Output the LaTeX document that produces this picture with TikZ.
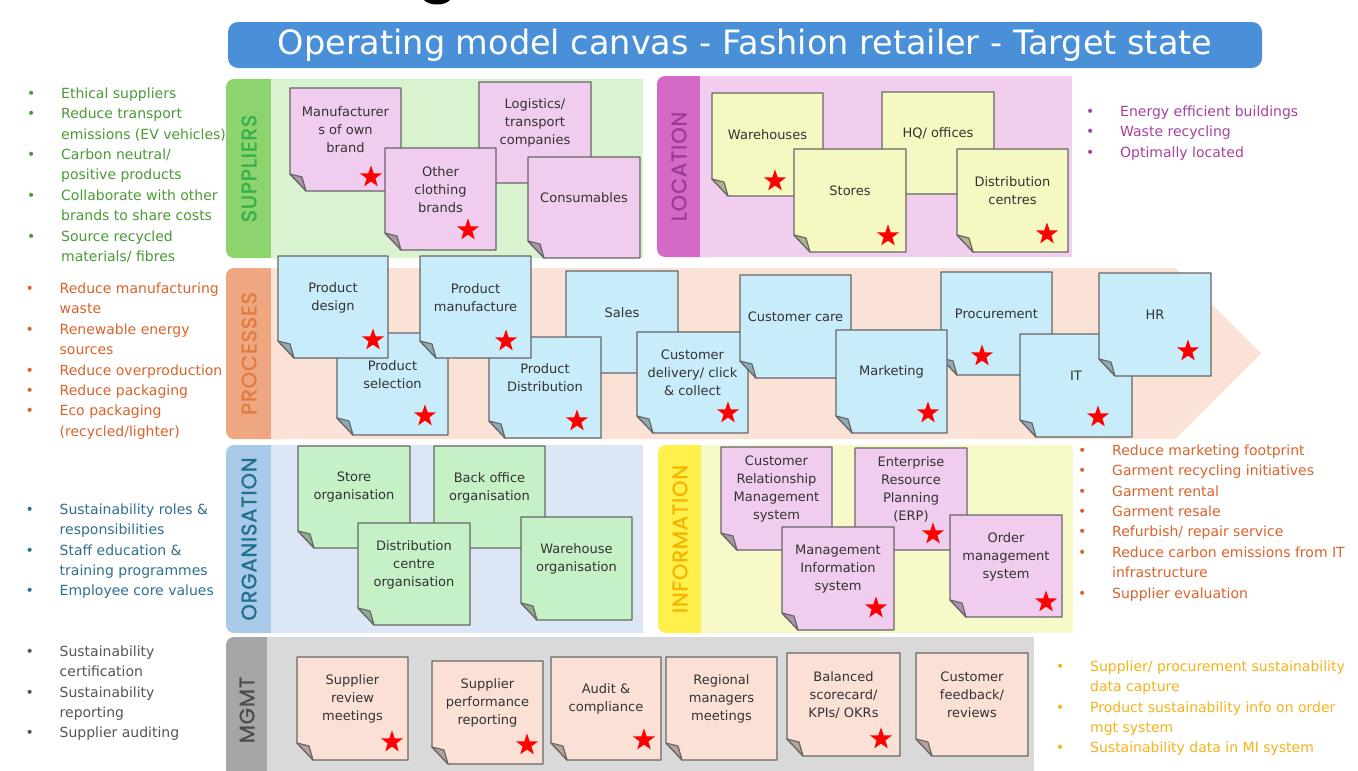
\documentclass[tikz,border=0pt]{standalone}
\usepackage{fontspec}
\setmainfont{DejaVu Sans}
\newfontfamily\tabfont[FakeBold=1.2,LetterSpace=4]{Poppins}
\usetikzlibrary{shapes.geometric}

\definecolor{titleblue}{HTML}{4A90D9}
\definecolor{suptab}{HTML}{8ED46E}
\definecolor{suplight}{HTML}{D9F2D0}
\definecolor{suptext}{HTML}{36B04A}
\definecolor{loctab}{HTML}{D46AC6}
\definecolor{loclight}{HTML}{F2CEEE}
\definecolor{loctext}{HTML}{9C3B95}
\definecolor{proctab}{HTML}{EFA781}
\definecolor{proclight}{HTML}{FBE2D6}
\definecolor{proctext}{HTML}{E27B3F}
\definecolor{orgtab}{HTML}{A9C9E9}
\definecolor{orglight}{HTML}{DCE7F5}
\definecolor{orgtext}{HTML}{21708F}
\definecolor{infotab}{HTML}{FFF04C}
\definecolor{infolight}{HTML}{F8F9C9}
\definecolor{infotext}{HTML}{F4B400}
\definecolor{mgmttab}{HTML}{A6A6A6}
\definecolor{mgmtlight}{HTML}{D9D9D9}
\definecolor{mgmttext}{HTML}{4D4D4D}
\definecolor{notepink}{HTML}{F0CDEE}
\definecolor{noteyellow}{HTML}{F5F8C0}
\definecolor{noteblue}{HTML}{C9ECFA}
\definecolor{notegreen}{HTML}{C6F0C6}
\definecolor{notepeach}{HTML}{FBE1D5}
\definecolor{notegray}{HTML}{666666}
\definecolor{notetxt}{HTML}{333333}
\definecolor{starred}{HTML}{FF0000}
\definecolor{lgreen}{HTML}{4A9A35}
\definecolor{lorange}{HTML}{D9632B}
\definecolor{lblue}{HTML}{2F6F8E}
\definecolor{lgray}{HTML}{555555}
\definecolor{lpurple}{HTML}{A8409E}
\definecolor{lyellow}{HTML}{F5B21A}

\newcommand\mynotefont{\fontsize{13}{18}\selectfont}
\newcommand\mylistfont{\fontsize{14}{20.4}\selectfont}
\newcommand\bu{\makebox[0pt]{\textbullet}\hspace*{30pt}}
\newcommand\ind{\hspace*{30pt}}

\tikzset{
  notebody/.style={draw=notegray, line width=1.2pt, line join=round},
  notetext/.style={align=center, text=notetxt, font=\mynotefont, inner sep=0pt},
  redstar/.style={star, star points=5, star point ratio=2.5, fill=starred, draw=none, minimum size=23pt, inner sep=0pt},
  tablabel/.style={rotate=90, font=\tabfont\fontsize{21}{21}\selectfont, inner sep=0pt},
  listtxt/.style={align=left, anchor=north west, inner sep=0pt, font=\mylistfont},
}

% name, x0, y0, x1, y1, colour, text
\newcommand\sticky[7]{%
  \filldraw[notebody, fill=#6] (#2,#3) -- (#4,#3) -- (#4,#5) -- ({#2+16},#5) -- (#2,{#5-17}) -- cycle;
  \filldraw[notebody, fill=#6!72!black] (#2,{#5-17}) -- ({#2+12},{#5-14}) -- ({#2+16},#5) -- cycle;
  \node[notetext] (#1) at ({(#2+#4)/2},{(#3+#5)/2-9.5}) {#7};
}
\newcommand\nstar[3]{\node[redstar] (#1) at (#2,#3) {};}

\begin{document}
\begin{tikzpicture}[x=1pt,y=-1pt]
\useasboundingbox (0,0) rectangle (1358,771);
\fill[white] (0,0) rectangle (1358,771);

% partial glyph at top edge
\fill[black] (424,0) .. controls (429,6) and (445,6) .. (450,0) -- cycle;

% title
\node[fill=titleblue, rounded corners=10pt, minimum width=1034pt, minimum height=46pt, inner sep=0pt,
      text=white, font=\fontsize{33.5}{33.5}\selectfont] (title) at (745,45) {Operating model canvas - Fashion retailer - Target state};

% ---------- panels ----------
% suppliers
\fill[suptab, rounded corners=8pt] (226,79) rectangle (290,258);
\fill[suplight] (271,79) rectangle (643,258);
\node[tablabel, text=suptext] (tabSup) at (249,168.5) {SUPPLIERS};
% location
\fill[loctab, rounded corners=8pt] (657,76) rectangle (720,257);
\fill[loclight] (700,76) rectangle (1072,257);
\node[tablabel, text=loctext] (tabLoc) at (679,166.5) {LOCATION};
% processes
\fill[proctab, rounded corners=8pt] (226,268) rectangle (290,439);
\fill[proclight] (271,268) -- (1175,268) -- (1261,353.5) -- (1175,439) -- (271,439) -- cycle;
\node[tablabel, text=proctext] (tabProc) at (249,353.5) {PROCESSES};
% organisation
\fill[orgtab, rounded corners=8pt] (226,445) rectangle (290,633);
\fill[orglight] (271,445) rectangle (643,633);
\node[tablabel, text=orgtext] (tabOrg) at (249,539) {ORGANISATION};
% information
\fill[infotab, rounded corners=8pt] (658,445) rectangle (720,633);
\fill[infolight] (701,445) rectangle (1073,633);
\node[tablabel, text=infotext] (tabInfo) at (680,539) {INFORMATION};
% mgmt
\fill[mgmttab, rounded corners=8pt] (226,637) rectangle (290,790);
\fill[mgmtlight] (267,637) rectangle (1034,790);
\node[tablabel, text=mgmttext] (tabMgmt) at (247,710) {MGMT};

% ---------- suppliers notes ----------
\sticky{manu}{290}{88}{401}{191}{notepink}{Manufacturer\\s of own\\brand}
\nstar{sManu}{371}{177}
\sticky{logi}{479}{82}{591}{183}{notepink}{Logistics/\\transport\\companies}
\sticky{other}{385}{148}{496}{250}{notepink}{Other\\clothing\\brands}
\nstar{sOther}{468}{230}
\sticky{cons}{528}{157}{640}{258}{notepink}{Consumables}

% ---------- location notes ----------
\sticky{ware}{712}{93}{823}{196}{noteyellow}{Warehouses}
\nstar{sWare}{775}{181}
\sticky{hq}{882}{92}{994}{194}{noteyellow}{HQ/ offices}
\sticky{stores}{794}{149}{906}{252}{noteyellow}{Stores}
\nstar{sStores}{888}{236}
\sticky{dist}{957}{149}{1068}{252}{noteyellow}{Distribution\\centres}
\nstar{sDist}{1047}{234}

% ---------- process notes ----------
\sticky{psel}{337}{333}{448}{435}{noteblue}{Product\\selection}
\nstar{sPsel}{425}{416}
\sticky{pdes}{278}{256}{388}{358}{noteblue}{Product\\design}
\nstar{sPdes}{373}{340}
\sticky{sales}{566}{271}{678}{373}{noteblue}{Sales}
\sticky{pdist}{489}{337}{601}{438}{noteblue}{Product\\Distribution}
\nstar{sPdist}{577}{421}
\sticky{pman}{420}{256}{531}{358}{noteblue}{Product\\manufacture}
\nstar{sPman}{506}{341}
\sticky{cdel}{637}{332}{748}{433}{noteblue}{Customer\\delivery/ click\\\& collect}
\nstar{sCdel}{728}{413}
\sticky{ccare}{740}{275}{851}{378}{noteblue}{Customer care}
\sticky{proc}{941}{272}{1052}{375}{noteblue}{Procurement}
\nstar{sProc}{982}{356}
\sticky{mark}{836}{330}{947}{433}{noteblue}{Marketing}
\nstar{sMark}{928}{413}
\sticky{it}{1020}{334}{1132}{437}{noteblue}{IT}
\nstar{sIT}{1098}{417}
\sticky{hr}{1099}{273}{1211}{376}{noteblue}{HR}
\nstar{sHR}{1188}{351}

% ---------- organisation notes ----------
\sticky{ostore}{298}{446}{410}{548}{notegreen}{Store\\organisation}
\sticky{oback}{434}{446}{545}{548}{notegreen}{Back office\\organisation}
\sticky{odc}{358}{523}{470}{625}{notegreen}{Distribution\\centre\\organisation}
\sticky{oware}{521}{517}{632}{620}{notegreen}{Warehouse\\organisation}

% ---------- information notes ----------
\sticky{crm}{721}{447}{832}{550}{notepink}{Customer\\Relationship\\Management\\system}
\sticky{erp}{855}{448}{967}{550}{notepink}{Enterprise\\Resource\\Planning\\(ERP)}
\nstar{sERP}{933}{534}
\sticky{mis}{782}{527}{894}{630}{notepink}{Management\\Information\\system}
\nstar{sMIS}{876}{608}
\sticky{oms}{950}{515}{1062}{617}{notepink}{Order\\management\\system}
\nstar{sOMS}{1046}{602}

% ---------- mgmt notes ----------
\sticky{srm}{297}{657}{408}{760}{notepeach}{Supplier\\review\\meetings}
\nstar{sSRM}{392}{742}
\sticky{spr}{432}{661}{543}{764}{notepeach}{Supplier\\performance\\reporting}
\nstar{sSPR}{527}{745}
\sticky{audit}{551}{657}{661}{760}{notepeach}{Audit \&\\compliance}
\nstar{sAudit}{644}{740}
\sticky{reg}{666}{657}{777}{760}{notepeach}{Regional\\managers\\meetings}
\sticky{bsc}{787}{653}{900}{756}{notepeach}{Balanced\\scorecard/\\KPIs/ OKRs}
\nstar{sBSC}{881}{739}
\sticky{cfb}{916}{653}{1028}{756}{notepeach}{Customer\\feedback/\\reviews}

% ---------- bullet lists ----------
\node[listtxt, text=lgreen] (listSup) at (31,83.8) {\strut\bu Ethical suppliers\\
\bu Reduce transport\\ \ind emissions (EV vehicles)\\
\bu Carbon neutral/\\ \ind positive products\\
\bu Collaborate with other\\ \ind brands to share costs\\
\bu Source recycled\\ \ind materials/ fibres};

\node[listtxt, text=lorange] (listProc) at (29.5,279) {\strut\bu Reduce manufacturing\\ \ind waste\\
\bu Renewable energy\\ \ind sources\\
\bu Reduce overproduction\\
\bu Reduce packaging\\
\bu Eco packaging\\ \ind (recycled/lighter)};

\node[listtxt, text=lblue] (listOrg) at (29.5,499.8) {\strut\bu Sustainability roles \&\\ \ind responsibilities\\
\bu Staff education \&\\ \ind training programmes\\
\bu Employee core values};

\node[listtxt, text=lgray] (listMgmt) at (29.5,641.8) {\strut\bu Sustainability\\ \ind certification\\
\bu Sustainability\\ \ind reporting\\
\bu Supplier auditing};

\node[listtxt, text=lpurple] (listLoc) at (1090,101.8) {\strut\bu Energy efficient buildings\\
\bu Waste recycling\\
\bu Optimally located};

\node[listtxt, text=lorange] (listInfo) at (1082,440.8) {\strut\bu Reduce marketing footprint\\
\bu Garment recycling initiatives\\
\bu Garment rental\\
\bu Garment resale\\
\bu Refurbish/ repair service\\
\bu Reduce carbon emissions from IT\\ \ind infrastructure\\
\bu Supplier evaluation};

\node[listtxt, text=lyellow] (listMI) at (1060,656.8) {\strut\bu Supplier/ procurement sustainability\\ \ind data capture\\
\bu Product sustainability info on order\\ \ind mgt system\\
\bu Sustainability data in MI system};

\end{tikzpicture}
\end{document}
